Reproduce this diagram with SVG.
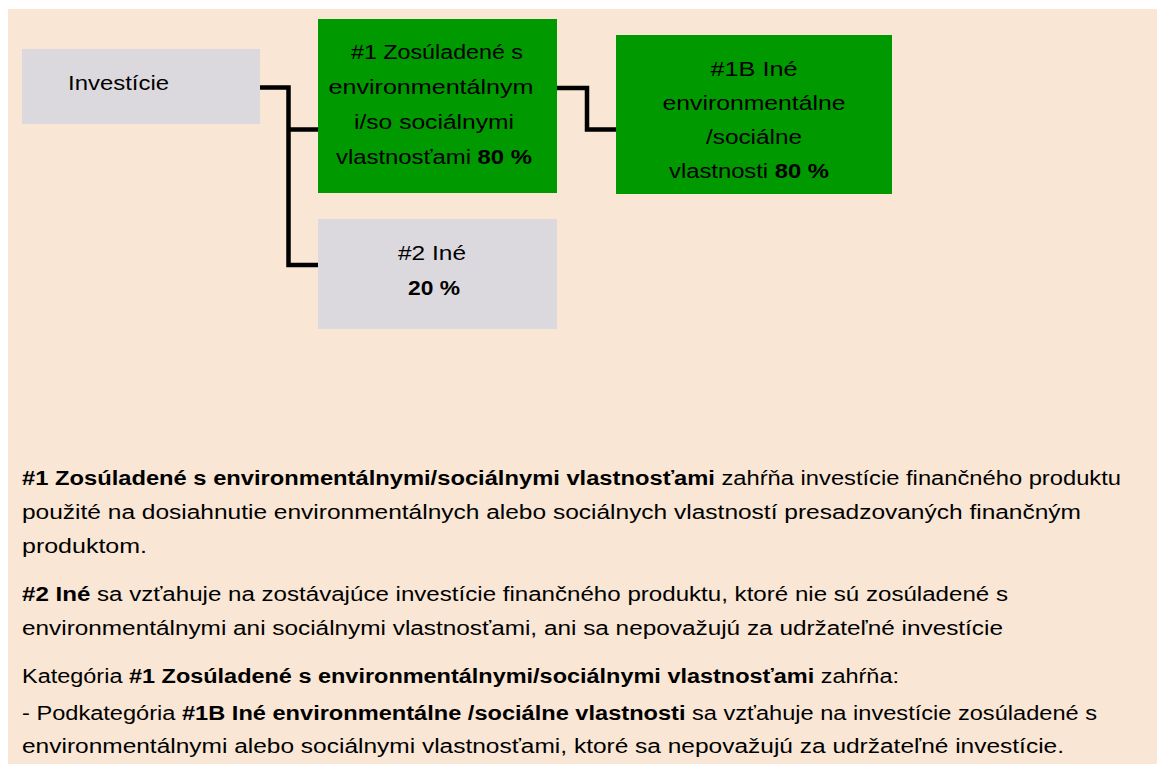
<svg xmlns="http://www.w3.org/2000/svg" width="1157" height="764" viewBox="0 0 1157 764">
<style>
.t{font-family:"Liberation Sans",Arial,sans-serif;font-size:20px;fill:#000}
.b{font-weight:bold}
.gray{fill:#DCD9DE}
.green{fill:#009900}
.conn{fill:none;stroke:#000;stroke-width:4.5}
</style>
<rect x="0" y="0" width="1157" height="764" fill="#ffffff"/>
<rect x="8" y="9" width="1149" height="755" fill="#F9E6D4"/>
<g id="connectors">
<polyline class="conn" points="260,87.5 288.5,87.5 288.5,265 318,265"/>
<line class="conn" x1="288.5" y1="129.5" x2="318" y2="129.5"/>
<polyline class="conn" points="557,88 587,88 587,129.5 616,129.5"/>
</g>
<g id="node-investicie">
<rect class="gray" x="22" y="49" width="238" height="75"/>
<text class="t" x="68" y="90" textLength="101" lengthAdjust="spacingAndGlyphs">Investície</text>
</g>
<g id="node-1">
<rect class="green" x="318" y="19" width="239" height="174"/>
<text class="t" text-anchor="middle" x="437" y="59" textLength="172" lengthAdjust="spacingAndGlyphs">#1 Zosúladené s</text>
<text class="t" text-anchor="middle" x="431" y="94" textLength="205" lengthAdjust="spacingAndGlyphs">environmentálnym</text>
<text class="t" text-anchor="middle" x="434" y="129" textLength="160" lengthAdjust="spacingAndGlyphs">i/so sociálnymi</text>
<text class="t" text-anchor="middle" x="434" y="164" textLength="196" lengthAdjust="spacingAndGlyphs">vlastnosťami <tspan class="b">80 %</tspan></text>
</g>
<g id="node-1b">
<rect class="green" x="616" y="35" width="276" height="159"/>
<text class="t" text-anchor="middle" x="754" y="76" textLength="87" lengthAdjust="spacingAndGlyphs">#1B Iné</text>
<text class="t" text-anchor="middle" x="754" y="110" textLength="183" lengthAdjust="spacingAndGlyphs">environmentálne</text>
<text class="t" text-anchor="middle" x="754" y="144" textLength="96" lengthAdjust="spacingAndGlyphs">/sociálne</text>
<text class="t" text-anchor="middle" x="749" y="178" textLength="160" lengthAdjust="spacingAndGlyphs">vlastnosti <tspan class="b">80 %</tspan></text>
</g>
<g id="node-2">
<rect class="gray" x="318" y="219" width="239" height="110"/>
<text class="t" text-anchor="middle" x="432" y="260" textLength="68" lengthAdjust="spacingAndGlyphs">#2 Iné</text>
<text class="t b" text-anchor="middle" x="434" y="295" textLength="52" lengthAdjust="spacingAndGlyphs">20 %</text>
</g>
<g id="legend">
<text class="t" x="22" y="485" textLength="1099" lengthAdjust="spacingAndGlyphs"><tspan class="b">#1 Zosúladené s environmentálnymi/sociálnymi vlastnosťami</tspan> zahŕňa investície finančného produktu</text>
<text class="t" x="22" y="519" textLength="1059" lengthAdjust="spacingAndGlyphs">použité na dosiahnutie environmentálnych alebo sociálnych vlastností presadzovaných finančným</text>
<text class="t" x="22" y="553" textLength="125" lengthAdjust="spacingAndGlyphs">produktom.</text>
<text class="t" x="22" y="601" textLength="986" lengthAdjust="spacingAndGlyphs"><tspan class="b">#2 Iné</tspan> sa vzťahuje na zostávajúce investície finančného produktu, ktoré nie sú zosúladené s</text>
<text class="t" x="22" y="635" textLength="981" lengthAdjust="spacingAndGlyphs">environmentálnymi ani sociálnymi vlastnosťami, ani sa nepovažujú za udržateľné investície</text>
<text class="t" x="22" y="683" textLength="877" lengthAdjust="spacingAndGlyphs">Kategória <tspan class="b">#1 Zosúladené s environmentálnymi/sociálnymi vlastnosťami</tspan> zahŕňa:</text>
<text class="t" x="22" y="720" textLength="1075" lengthAdjust="spacingAndGlyphs">- Podkategória <tspan class="b">#1B Iné environmentálne /sociálne vlastnosti</tspan> sa vzťahuje na investície zosúladené s</text>
<text class="t" x="22" y="753" textLength="1042" lengthAdjust="spacingAndGlyphs">environmentálnymi alebo sociálnymi vlastnosťami, ktoré sa nepovažujú za udržateľné investície.</text>
</g>
</svg>
